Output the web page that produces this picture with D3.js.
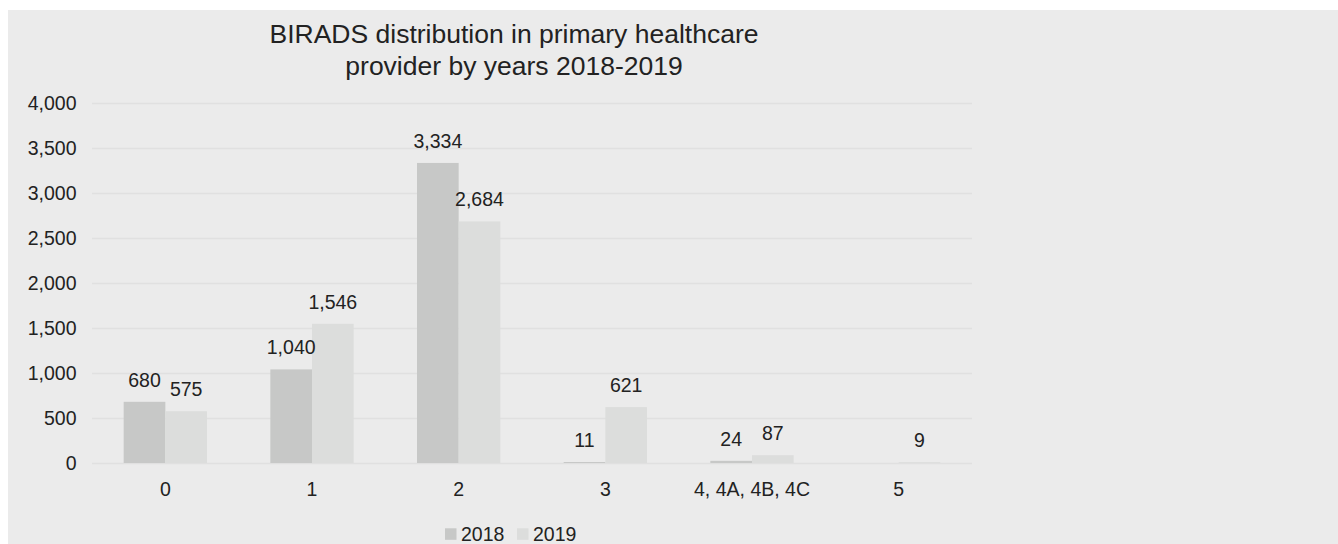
<!DOCTYPE html>
<html>
<head>
<meta charset="utf-8">
<script src="https://cdn.jsdelivr.net/npm/d3@7"></script>
<style>
  body { margin: 0; background: #fff; }
  text { font-family: "Liberation Sans", Arial, sans-serif; fill: #222; }
</style>
</head>
<body>
<div id="chart"></div>
<script>
// chart data
var categories = ['0', '1', '2', '3', '4, 4A, 4B, 4C', '5'];
var years = ['2018', '2019'];
var values2018 = [680, 1040, 3334, 11, 24, null];
var values2019 = [575, 1546, 2684, 621, 87, 9];
var yTicks = [0, 500, 1000, 1500, 2000, 2500, 3000, 3500, 4000];
var titleLines = ['BIRADS distribution in primary healthcare', 'provider by years 2018-2019'];

var width = 1338, height = 544;
var margin = { top: 103, left: 92, right: 366, bottom: 81 };
var colors = { '2018': '#c7c8c7', '2019': '#dcdddc' };
var fontSize = '19.5px';

var svg = d3.select('#chart').append('svg')
    .attr('width', width)
    .attr('height', height);

// grey chart area
svg.append('rect')
    .attr('x', 8).attr('y', 10)
    .attr('width', width - 8).attr('height', height - 10)
    .attr('fill', '#ebebeb');

var x = d3.scaleBand()
    .domain(categories)
    .range([margin.left, width - margin.right])
    .paddingInner(0.432)
    .paddingOuter(0.216);

var xSub = d3.scaleBand()
    .domain(years)
    .range([0, x.bandwidth()]);

var y = d3.scaleLinear()
    .domain([0, 4000])
    .range([height - margin.bottom, margin.top]);

// gridlines
var grid = svg.append('g')
    .attr('transform', 'translate(' + margin.left + ',0)')
    .call(d3.axisLeft(y).tickValues(yTicks)
        .tickSize(-(width - margin.right - margin.left))
        .tickFormat(''));
grid.select('.domain').remove();
grid.selectAll('line').attr('stroke', '#e0e0e0').attr('stroke-width', 1.3);

// y tick labels
var yAxis = svg.append('g')
    .attr('transform', 'translate(' + (margin.left - 15.5) + ',0)')
    .call(d3.axisLeft(y).tickValues(yTicks).tickSize(0).tickFormat(d3.format(',')));
yAxis.select('.domain').remove();
yAxis.selectAll('text')
    .attr('x', 0)
    .style('font-size', fontSize)
    .attr('fill', '#222');

// x tick labels
var xAxis = svg.append('g')
    .attr('transform', 'translate(0,' + y(0) + ')')
    .call(d3.axisBottom(x).tickSize(0));
xAxis.select('.domain').remove();
xAxis.selectAll('text')
    .attr('y', 19)
    .style('font-size', fontSize)
    .attr('fill', '#222');

// bars
var rows = categories.map(function (c, i) {
    return { cat: c, vals: [
        { year: '2018', value: values2018[i] },
        { year: '2019', value: values2019[i] }
    ] };
});

var groups = svg.selectAll('.grp')
    .data(rows)
    .enter().append('g')
    .attr('class', 'grp')
    .attr('transform', function (d) { return 'translate(' + x(d.cat) + ',0)'; });

var bars = groups.selectAll('.bar')
    .data(function (d) { return d.vals.filter(function (v) { return v.value != null; }); })
    .enter();

bars.append('rect')
    .attr('class', 'bar')
    .attr('x', function (d) { return xSub(d.year); })
    .attr('width', xSub.bandwidth())
    .attr('y', function (d) { return y(d.value); })
    .attr('height', function (d) { return y(0) - y(d.value); })
    .attr('fill', function (d) { return colors[d.year]; });

bars.append('text')
    .attr('x', function (d) { return xSub(d.year) + xSub.bandwidth() / 2; })
    .attr('y', function (d) { return y(d.value) - 15; })
    .attr('text-anchor', 'middle')
    .style('font-size', fontSize)
    .text(function (d) { return d3.format(',')(d.value); });

// title
svg.append('text')
    .attr('x', 514)
    .attr('y', 42.5)
    .attr('text-anchor', 'middle')
    .style('font-size', '26.5px')
    .selectAll('tspan')
    .data(titleLines)
    .enter().append('tspan')
    .attr('x', 514)
    .attr('dy', function (d, i) { return i === 0 ? 0 : 32.5; })
    .text(function (d) { return d; });

// legend
var legend = svg.append('g').attr('transform', 'translate(445,0)');
var legX = [0, 72];
years.forEach(function (yr, i) {
    legend.append('rect')
        .attr('x', legX[i]).attr('y', 528.3)
        .attr('width', 11.5).attr('height', 11.5)
        .attr('fill', colors[yr]);
    legend.append('text')
        .attr('x', legX[i] + 16).attr('y', 540.5)
        .style('font-size', fontSize)
        .text(yr);
});
</script>
</body>
</html>
